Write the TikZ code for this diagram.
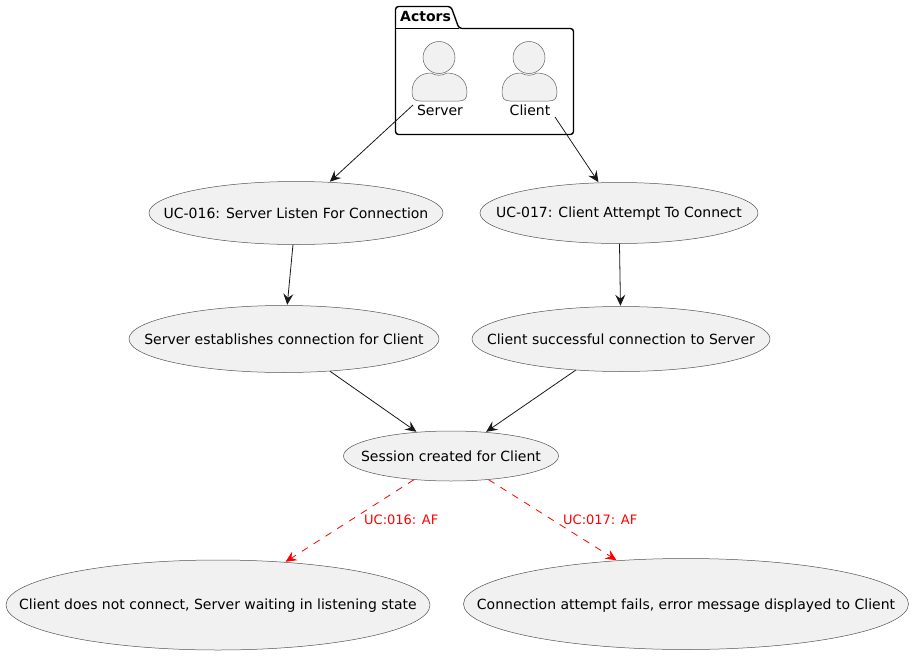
\documentclass[tikz,border=0pt]{standalone}
\usepackage{fontspec}
\setmainfont{DejaVu Sans}
\usetikzlibrary{shapes.geometric,arrows.meta}
\definecolor{ink}{HTML}{181818}
\definecolor{shade}{HTML}{F1F1F1}
\newcommand{\uctext}[1]{\makebox[0pt][c]{#1}}
\newcommand{\uclow}[2]{\raisebox{-#1pt}[0pt][0pt]{\makebox[0pt][c]{#2}}}
\tikzset{
  usecase/.style={ellipse,draw=ink!75,fill=shade,line width=0.5pt,inner sep=0pt,font=\fontsize{14}{16}\selectfont,text=black},
  flow/.style={draw=ink,line width=0.8pt,-{Stealth[length=11pt,width=10pt,inset=4pt]},shorten >=0.5pt},
  altflow/.style={draw=red,line width=0.8pt,dash pattern=on 7pt off 7pt,-{Stealth[length=11pt,width=10pt,inset=4pt]},shorten >=0.5pt},
  altlabel/.style={text=red,font=\fontsize{13}{15}\selectfont,anchor=west,inner sep=0pt},
  person/.style={draw=ink!70,fill=shade,line width=0.5pt},
  actorlabel/.style={font=\fontsize{14}{16}\selectfont,inner sep=0pt,text=black},
  pack/.style={draw=black,line width=1.4pt,line join=round}
}
\begin{document}
\begin{tikzpicture}[x=1pt,y=-1pt]
\useasboundingbox (0,0) rectangle (913,656);
% package
\draw[pack,rounded corners=3pt] (395.5,28.5) -- (395.5,6.5) -- (451,6.5) -- (459,28.5) -- (573.5,28.5) -- (573.5,134.5) -- (395.5,134.5) -- cycle;
\draw[pack] (395.5,28.5) -- (459,28.5);
\node[font=\fontsize{14}{16}\selectfont\bfseries,inner sep=0pt,anchor=west] (pkg) at (400,16.5) {Actors};
% actors
\draw[person] (439,57.5) circle[radius=16];
\draw[person] (412,92) .. controls (412,80) and (420,73) .. (431,73) .. controls (436,76) and (442,76) .. (447,73)
  .. controls (458,73) and (467,80) .. (467,92) .. controls (467,98) and (465,101) .. (459,101) -- (420,101) .. controls (414,101) and (412,98) .. (412,92) -- cycle;
\draw[person] (529,57.5) circle[radius=16];
\draw[person] (502,92) .. controls (502,80) and (510,73) .. (521,73) .. controls (526,76) and (532,76) .. (537,73)
  .. controls (548,73) and (557,80) .. (557,92) .. controls (557,98) and (555,101) .. (549,101) -- (510,101) .. controls (504,101) and (502,98) .. (502,92) -- cycle;
\node[actorlabel] (srv) at (440,110.5) {Server};
\node[actorlabel] (cli) at (530,110.5) {Client};
\coordinate (srvout) at (413,105);
\coordinate (cliout) at (555,117);
% use cases
\node[usecase,minimum width=294pt,minimum height=63pt] (uc16) at (296,213) {\uctext{UC-016: Server Listen For Connection}};
\node[usecase,minimum width=278pt,minimum height=61pt] (uc17) at (619,213) {\uclow{4.5}{UC-017: Client Attempt To Connect}};
\node[usecase,minimum width=310pt,minimum height=67pt] (est) at (284,339) {\uctext{Server establishes connection for Client}};
\node[usecase,minimum width=298pt,minimum height=65pt] (succ) at (621,339) {\uctext{Client successful connection to Server}};
\node[usecase,minimum width=215pt,minimum height=50pt] (sess) at (451,456) {\uctext{Session created for Client}};
\node[usecase,minimum width=424pt,minimum height=90pt] (wait) at (218,605) {\uclow{4}{Client does not connect, Server waiting in listening state}};
\node[usecase,minimum width=445pt,minimum height=91pt] (fail) at (686,604) {\uclow{5}{Connection attempt fails, error message displayed to Client}};
% connectors
\draw[flow] (srvout) -- (uc16);
\draw[flow] (cliout) -- (uc17);
\draw[flow] (uc16) -- (est);
\draw[flow] (uc17) -- (succ);
\draw[flow] (est) -- (sess);
\draw[flow] (succ) -- (sess);
\draw[altflow] (sess) -- (wait);
\draw[altflow] (sess) -- (fail);
\node[altlabel] (l16) at (364,519.5) {UC:016: AF};
\node[altlabel] (l17) at (563,519.5) {UC:017: AF};
\end{tikzpicture}
\end{document}
